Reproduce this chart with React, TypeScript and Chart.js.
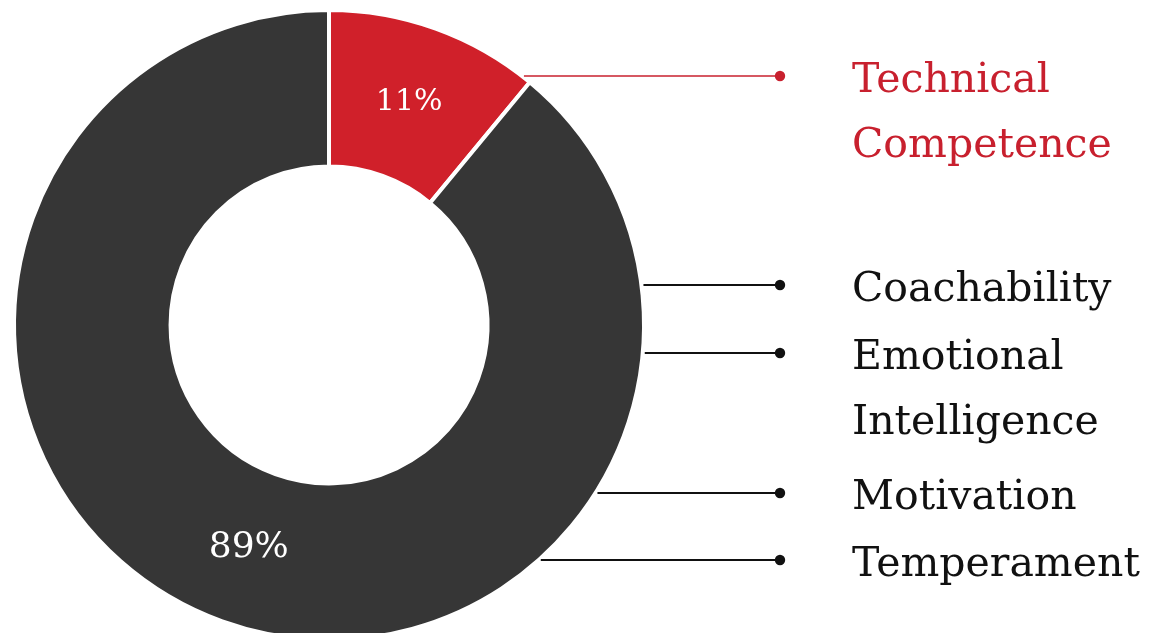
import React, { useEffect, useRef } from "react";
import { Chart, registerables } from "chart.js";

Chart.register(...registerables);

// ---- data ----
const categories = ["Technical Competence", "Character Traits"];
const shares = [11, 89];
const sliceColors = ["#d0202a", "#363636"];
const percentLabels = ["11%", "89%"];
const percentFontSizes = [30, 36];
const calloutLabels = [
  ["Technical", "Competence"],
  ["Coachability"],
  ["Emotional", "Intelligence"],
  ["Motivation"],
  ["Temperament"],
];
const calloutColors = ["#c8202e", "#111111", "#111111", "#111111", "#111111"];

// ---- layout ----
const W = 1157;
const H = 660;
const CENTER_X = 329;
const CENTER_Y = 325;
const HALF = 317;
const calloutLineY = [76, 285, 353, 493, 560];
const DOT_X = 780;
const TEXT_X = 852;
const TEXT_OFFSET = 16;
const LINE_SPACING = 65;
const FONT = '"DejaVu Serif", Georgia, serif';

const labelPlugin = {
  id: "labelPlugin",
  afterDraw(chart: any) {
    const ctx = chart.ctx;
    const meta = chart.getDatasetMeta(0);
    const arcs = meta.data;
    // percentage labels
    ctx.save();
    ctx.fillStyle = "#ffffff";
    ctx.textAlign = "center";
    ctx.textBaseline = "middle";
    arcs.forEach((arc: any, i: number) => {
      const p = arc.tooltipPosition();
      ctx.font = `${percentFontSizes[i]}px ${FONT}`;
      ctx.fillText(percentLabels[i], p.x, p.y);
    });
    ctx.restore();

    // callouts
    const first = arcs[0];
    const cx = first.x;
    const cy = first.y;
    const r = first.outerRadius;
    ctx.save();
    calloutLabels.forEach((lines, i) => {
      const y = calloutLineY[i];
      const dy = y - cy;
      const startX = cx + Math.sqrt(Math.max(r * r - dy * dy, 0)) + 2;
      const color = calloutColors[i];
      ctx.strokeStyle = color;
      ctx.fillStyle = color;
      ctx.lineWidth = i === 0 ? 1.6 : 2;
      ctx.beginPath();
      ctx.moveTo(startX, y);
      ctx.lineTo(DOT_X, y);
      ctx.stroke();
      ctx.beginPath();
      ctx.arc(DOT_X, y, 5.2, 0, Math.PI * 2);
      ctx.fill();
      ctx.font = `41px ${FONT}`;
      ctx.textAlign = "left";
      ctx.textBaseline = "alphabetic";
      lines.forEach((t, j) => {
        ctx.fillText(t, TEXT_X, y + TEXT_OFFSET + j * LINE_SPACING);
      });
    });
    ctx.restore();
  },
};

export default function App() {
  const ref = useRef<HTMLCanvasElement | null>(null);
  useEffect(() => {
    if (!ref.current) return;
    const chart = new Chart(ref.current, {
      type: "doughnut",
      data: {
        labels: categories,
        datasets: [
          {
            data: shares,
            backgroundColor: sliceColors,
            borderColor: "#ffffff",
            borderWidth: 4,
            hoverOffset: 0,
          },
        ],
      },
      options: {
        responsive: false,
        animation: false,
        cutout: "50.3%",
        layout: {
          padding: {
            left: CENTER_X - HALF,
            top: CENTER_Y - HALF,
            right: W - (CENTER_X + HALF),
            bottom: H - (CENTER_Y + HALF),
          },
        },
        plugins: {
          legend: { display: false },
          tooltip: { enabled: false },
        },
      },
      plugins: [labelPlugin],
    });
    return () => chart.destroy();
  }, []);
  return (
    <div
      style={{
        position: "fixed",
        left: 0,
        top: 0,
        width: W,
        height: 633,
        overflow: "hidden",
        background: "#ffffff",
      }}
    >
      <canvas ref={ref} width={W} height={H} style={{ display: "block", width: W, height: H }} />
    </div>
  );
}
